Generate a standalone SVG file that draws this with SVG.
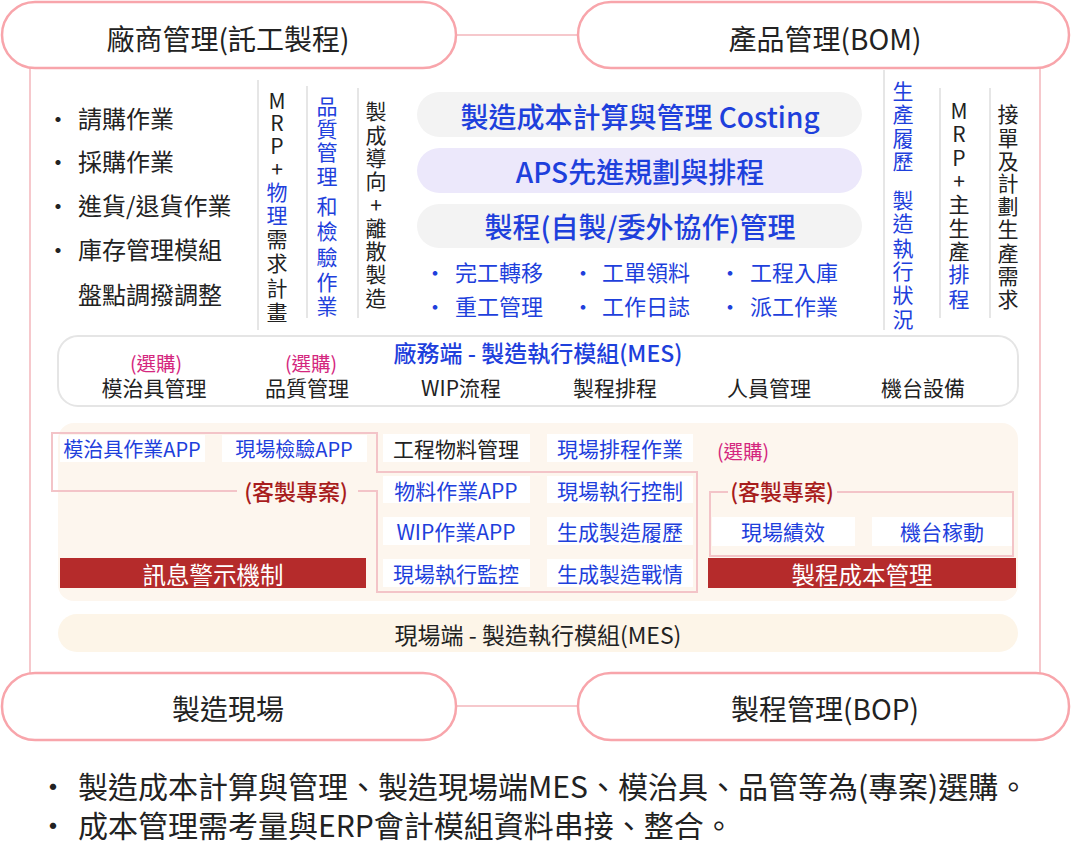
<svg xmlns="http://www.w3.org/2000/svg" width="1071" height="842" viewBox="0 0 1071 842">
<style>
text{font-family:"Noto Sans CJK TC","Noto Sans CJK SC","Noto Sans",sans-serif;dominant-baseline:central;fill:#222}
.c{text-anchor:middle}
.b{fill:#1e40dc}
.pk{fill:#d4267e}
.dr{fill:#a81c1c;font-weight:500}
.w{fill:#fff}
.pill{fill:#fff;stroke:#f8a5ab;stroke-width:2.5}
.sep{stroke:#e6e6e6;stroke-width:2}
.box{fill:#fff}
.bar{fill:#b52b2b}
.pl{fill:none;stroke:#f3c4c8;stroke-width:2}
.t28{font-size:28px}
.t24{font-size:24px}
.t23{font-size:23px}
.t22{font-size:22px}
.t21{font-size:21px}
.t20{font-size:20px}
.t19{font-size:19.5px}
.t18{font-size:18px}
.t30{font-size:30px}
.v{font-size:21px}
.m{font-weight:500}
</style>
<rect width="1071" height="842" fill="#fff"/>
<g id="connectors">
<rect x="30" y="35" width="1010" height="671" fill="none" stroke="#f6c8cc" stroke-width="2"/>
</g>
<g id="node-vendor">
<rect class="pill" x="2" y="2" width="454" height="66" rx="33"/>
<text class="c t28" x="228" y="38">廠商管理(託工製程)</text>
</g>
<g id="node-bom">
<rect class="pill" x="578" y="2" width="491" height="66" rx="33"/>
<text class="c t28" x="825" y="38">產品管理(BOM)</text>
</g>
<g id="node-site">
<rect class="pill" x="2" y="673" width="454" height="67" rx="33"/>
<text class="c t28" x="228" y="708">製造現場</text>
</g>
<g id="node-bop">
<rect class="pill" x="578" y="673" width="491" height="67" rx="33"/>
<text class="c t28" x="825" y="708">製程管理(BOP)</text>
</g>
<g id="node-purchase-list">
<text class="t24"><tspan x="46" y="117">・</tspan><tspan x="78" y="117">請購作業</tspan></text>
<text class="t24"><tspan x="46" y="160">・</tspan><tspan x="78" y="160">採購作業</tspan></text>
<text class="t24"><tspan x="46" y="204">・</tspan><tspan x="78" y="204">進貨/退貨作業</tspan></text>
<text class="t24"><tspan x="46" y="248">・</tspan><tspan x="78" y="248">庫存管理模組</tspan></text>
<text class="t24" x="78" y="293">盤點調撥調整</text>
</g>
<g id="node-separators">
<line class="sep" x1="258" y1="80" x2="258" y2="330"/>
<line class="sep" x1="307" y1="86" x2="307" y2="318"/>
<line class="sep" x1="358" y1="88" x2="358" y2="318"/>
<line class="sep" x1="884" y1="70" x2="884" y2="330"/>
<line class="sep" x1="940" y1="88" x2="940" y2="318"/>
<line class="sep" x1="990" y1="88" x2="990" y2="318"/>
</g>
<g id="node-mrp">
<text class="c v"><tspan x="277" y="100">M</tspan><tspan x="277" y="122">R</tspan><tspan x="277" y="145">P</tspan><tspan x="277" y="168">+</tspan><tspan class="b" x="277" y="191">物</tspan><tspan class="b" x="277" y="214">理</tspan><tspan x="277" y="238">需</tspan><tspan x="277" y="262">求</tspan><tspan x="277" y="287">計</tspan><tspan x="277" y="311">畫</tspan></text>
</g>
<g id="node-quality">
<text class="c v b"><tspan x="327" y="105">品</tspan><tspan x="327" y="128">質</tspan><tspan x="327" y="151">管</tspan><tspan x="327" y="175">理</tspan><tspan x="327" y="205">和</tspan><tspan x="327" y="230">檢</tspan><tspan x="327" y="256">驗</tspan><tspan x="327" y="281">作</tspan><tspan x="327" y="305">業</tspan></text>
</g>
<g id="node-make">
<text class="c v"><tspan x="376" y="110">製</tspan><tspan x="376" y="134">成</tspan><tspan x="376" y="157">導</tspan><tspan x="376" y="180">向</tspan><tspan x="376" y="204">+</tspan><tspan x="376" y="227">離</tspan><tspan x="376" y="250">散</tspan><tspan x="376" y="273">製</tspan><tspan x="376" y="297">造</tspan></text>
</g>
<g id="node-costing">
<rect x="417" y="92" width="445" height="45" rx="22.5" fill="#f3f3f3"/>
<text class="c t28 b m" x="640" y="116">製造成本計算與管理 Costing</text>
</g>
<g id="node-aps">
<rect x="417" y="148" width="445" height="45" rx="22.5" fill="#ece8fb"/>
<text class="c t28 b m" x="640" y="171">APS先進規劃與排程</text>
</g>
<g id="node-process">
<rect x="417" y="204" width="445" height="44" rx="22" fill="#f3f3f3"/>
<text class="c t28 b m" x="640" y="226">製程(自製/委外協作)管理</text>
</g>
<g id="node-process-items">
<text class="t22 b"><tspan x="424" y="271">・</tspan><tspan x="455" y="271">完工轉移</tspan></text>
<text class="t22 b"><tspan x="572" y="271">・</tspan><tspan x="602" y="271">工單領料</tspan></text>
<text class="t22 b"><tspan x="719" y="271">・</tspan><tspan x="750" y="271">工程入庫</tspan></text>
<text class="t22 b"><tspan x="424" y="305">・</tspan><tspan x="455" y="305">重工管理</tspan></text>
<text class="t22 b"><tspan x="572" y="305">・</tspan><tspan x="602" y="305">工作日誌</tspan></text>
<text class="t22 b"><tspan x="719" y="305">・</tspan><tspan x="750" y="305">派工作業</tspan></text>
</g>
<g id="node-history">
<text class="c v b"><tspan x="903" y="90">生</tspan><tspan x="903" y="113">產</tspan><tspan x="903" y="137">履</tspan><tspan x="903" y="160">歷</tspan><tspan x="903" y="199">製</tspan><tspan x="903" y="222">造</tspan><tspan x="903" y="247">執</tspan><tspan x="903" y="270">行</tspan><tspan x="903" y="294">狀</tspan><tspan x="903" y="318">況</tspan></text>
</g>
<g id="node-mps">
<text class="c v"><tspan x="959" y="110">M</tspan><tspan x="959" y="133">R</tspan><tspan x="959" y="157">P</tspan><tspan x="959" y="180">+</tspan><tspan x="959" y="203">主</tspan><tspan x="959" y="227">生</tspan><tspan x="959" y="250">產</tspan><tspan class="b" x="959" y="273">排</tspan><tspan class="b" x="959" y="298">程</tspan></text>
</g>
<g id="node-order">
<text class="c v"><tspan x="1008" y="113">接</tspan><tspan x="1008" y="137">單</tspan><tspan x="1008" y="160">及</tspan><tspan x="1008" y="182">計</tspan><tspan x="1008" y="205">劃</tspan><tspan x="1008" y="228">生</tspan><tspan x="1008" y="252">產</tspan><tspan x="1008" y="275">需</tspan><tspan x="1008" y="298">求</tspan></text>
</g>
<g id="node-factory-mes">
<rect x="58" y="336" width="960" height="70" rx="20" fill="#fff" stroke="#e5e5e5" stroke-width="2"/>
<text class="c t23 b m" x="538" y="352">廠務端 - 製造執行模組(MES)</text>
<text class="c t19 pk" x="156" y="362">(選購)</text>
<text class="c t19 pk" x="311" y="362">(選購)</text>
<text class="c t21" x="154" y="387">模治具管理</text>
<text class="c t21" x="307" y="387">品質管理</text>
<text class="c t21" x="461" y="387">WIP流程</text>
<text class="c t21" x="615" y="387">製程排程</text>
<text class="c t21" x="769" y="387">人員管理</text>
<text class="c t21" x="923" y="387">機台設備</text>
</g>
<g id="node-site-area">
<rect x="58" y="423" width="960" height="178" rx="16" fill="#fdf6ee"/>
<path class="pl" d="M237,491 H52 V433 H377 V472 H697 V592 H377 V491 H358"/>
<path class="pl" d="M728,492 H710 V556 H1013 V492 H837"/>
</g>
<g id="node-apps">
<rect class="box" x="60" y="435" width="145" height="27"/>
<text class="c t20 b" x="132" y="448">模治具作業APP</text>
<rect class="box" x="222" y="435" width="145" height="27"/>
<text class="c t20 b" x="294" y="448">現場檢驗APP</text>
<rect class="box" x="383" y="434" width="147" height="28"/>
<text class="c t21" x="456" y="448">工程物料管理</text>
<rect class="box" x="547" y="434" width="146" height="28"/>
<text class="c t21 b" x="620" y="448">現場排程作業</text>
<rect class="box" x="383" y="476" width="147" height="27"/>
<text class="c t21 b" x="456" y="490">物料作業APP</text>
<rect class="box" x="547" y="476" width="146" height="27"/>
<text class="c t21 b" x="620" y="490">現場執行控制</text>
<rect class="box" x="383" y="517" width="147" height="28"/>
<text class="c t21 b" x="456" y="531">WIP作業APP</text>
<rect class="box" x="547" y="517" width="146" height="28"/>
<text class="c t21 b" x="620" y="531">生成製造履歷</text>
<rect class="box" x="383" y="559" width="147" height="28"/>
<text class="c t21 b" x="456" y="573">現場執行監控</text>
<rect class="box" x="547" y="559" width="146" height="28"/>
<text class="c t21 b" x="620" y="573">生成製造戰情</text>
<rect class="box" x="712" y="517" width="143" height="29"/>
<text class="c t21 b" x="783" y="531">現場績效</text>
<rect class="box" x="872" y="517" width="140" height="29"/>
<text class="c t21 b" x="942" y="531">機台稼動</text>
</g>
<g id="node-labels">
<text class="c t22 dr" x="296" y="490">(客製專案)</text>
<text class="c t22 dr" x="782" y="490">(客製專案)</text>
<text class="t19 pk" x="717" y="450">(選購)</text>
</g>
<g id="node-alert">
<rect class="bar" x="60" y="558" width="306" height="30"/>
<text class="c w" style="font-size:23.5px" x="213" y="574">訊息警示機制</text>
</g>
<g id="node-costmgmt">
<rect class="bar" x="708" y="558" width="308" height="30"/>
<text class="c w" style="font-size:23.5px" x="862" y="574">製程成本管理</text>
</g>
<g id="node-site-mes">
<rect x="58" y="614" width="960" height="38" rx="19" fill="#fdf5e8"/>
<text class="c t23" x="538" y="634">現場端 - 製造執行模組(MES)</text>
</g>
<g id="node-notes">
<text class="t30"><tspan x="38" y="785">・</tspan><tspan x="78" y="785">製造成本計算與管理、製造現場端MES、模治具、品管等為(專案)選購。</tspan></text>
<text class="t30"><tspan x="38" y="824">・</tspan><tspan x="78" y="824">成本管理需考量與ERP會計模組資料串接、整合。</tspan></text>
</g>
</svg>
